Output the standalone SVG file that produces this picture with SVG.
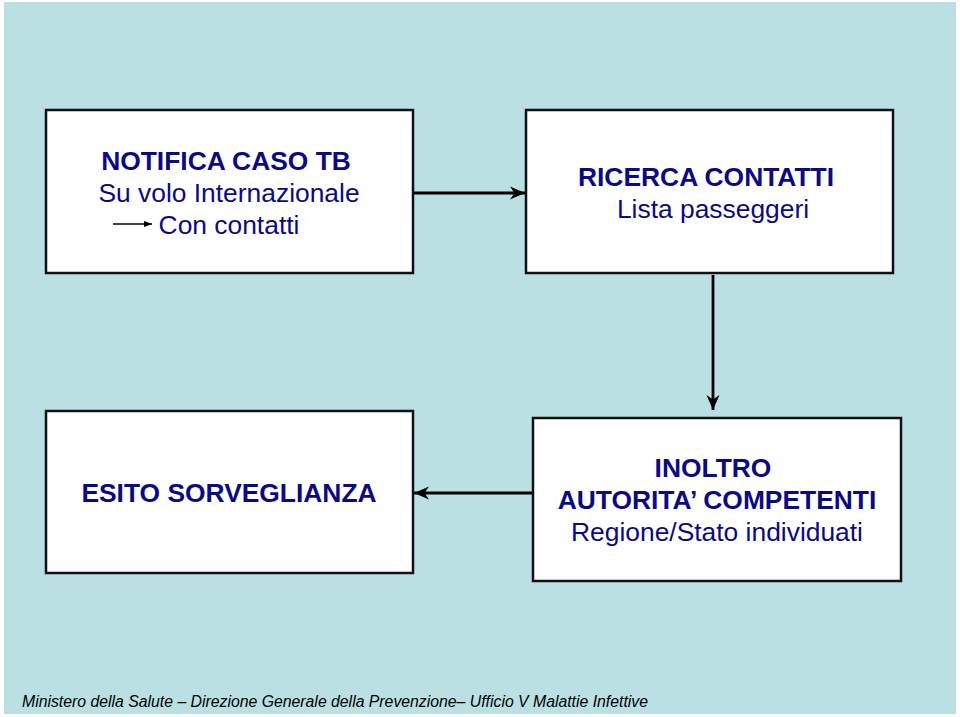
<svg xmlns="http://www.w3.org/2000/svg" width="960" height="717" viewBox="0 0 960 717">
<defs>
<style>
.box{fill:#fff;stroke:#111;stroke-width:2.5}
.t{font-family:"Liberation Sans",Arial,sans-serif;font-size:26.4px;fill:#0a0a86;text-anchor:middle}
.b{font-weight:bold}
.conn{stroke:#000;stroke-width:2.8;fill:none}
.foot{font-family:"Liberation Sans",Arial,sans-serif;font-size:16px;font-style:italic;fill:#000}
</style>
<marker id="ah" markerUnits="userSpaceOnUse" markerWidth="16" markerHeight="16" viewBox="0 0 16 16" refX="15" refY="8" orient="auto">
<path d="M0,1.5 L15,8 L0,14.5 L4.5,8 z" fill="#000"/>
</marker>
<marker id="sah" markerUnits="userSpaceOnUse" markerWidth="8" markerHeight="8" viewBox="0 0 8 8" refX="8" refY="4" orient="auto">
<path d="M0,1 L8,4 L0,7 z" fill="#000"/>
</marker>
</defs>
<rect width="960" height="717" fill="#fff"/>
<rect x="4" y="2" width="952" height="712" fill="#BBE0E3"/>
<g id="connectors">
<line class="conn" x1="413" y1="193" x2="525" y2="193" marker-end="url(#ah)"/>
<line class="conn" x1="713" y1="275" x2="713" y2="410" marker-end="url(#ah)"/>
<line class="conn" x1="533" y1="493" x2="414" y2="493" marker-end="url(#ah)"/>
</g>
<g id="notifica">
<rect class="box" x="46" y="110" width="367" height="163"/>
<text class="t b" x="226" y="170">NOTIFICA CASO TB</text>
<text class="t" x="229" y="202">Su volo Internazionale</text>
<text class="t" x="229" y="234">Con contatti</text>
<line x1="113" y1="224" x2="152" y2="224" stroke="#000" stroke-width="1.5" marker-end="url(#sah)"/>
</g>
<g id="ricerca">
<rect class="box" x="526" y="110" width="367" height="163"/>
<text class="t b" x="706" y="186">RICERCA CONTATTI</text>
<text class="t" x="713" y="218">Lista passeggeri</text>
</g>
<g id="esito">
<rect class="box" x="46" y="411" width="367" height="162"/>
<text class="t b" x="229" y="502">ESITO SORVEGLIANZA</text>
</g>
<g id="inoltro">
<rect class="box" x="533" y="418" width="368" height="163"/>
<text class="t b" x="713" y="477">INOLTRO</text>
<text class="t b" x="717" y="509">AUTORITA’ COMPETENTI</text>
<text class="t" x="717" y="541">Regione/Stato individuati</text>
</g>
<text class="foot" x="22" y="707" textLength="626" lengthAdjust="spacingAndGlyphs">Ministero della Salute – Direzione Generale della Prevenzione– Ufficio V Malattie Infettive</text>
</svg>
